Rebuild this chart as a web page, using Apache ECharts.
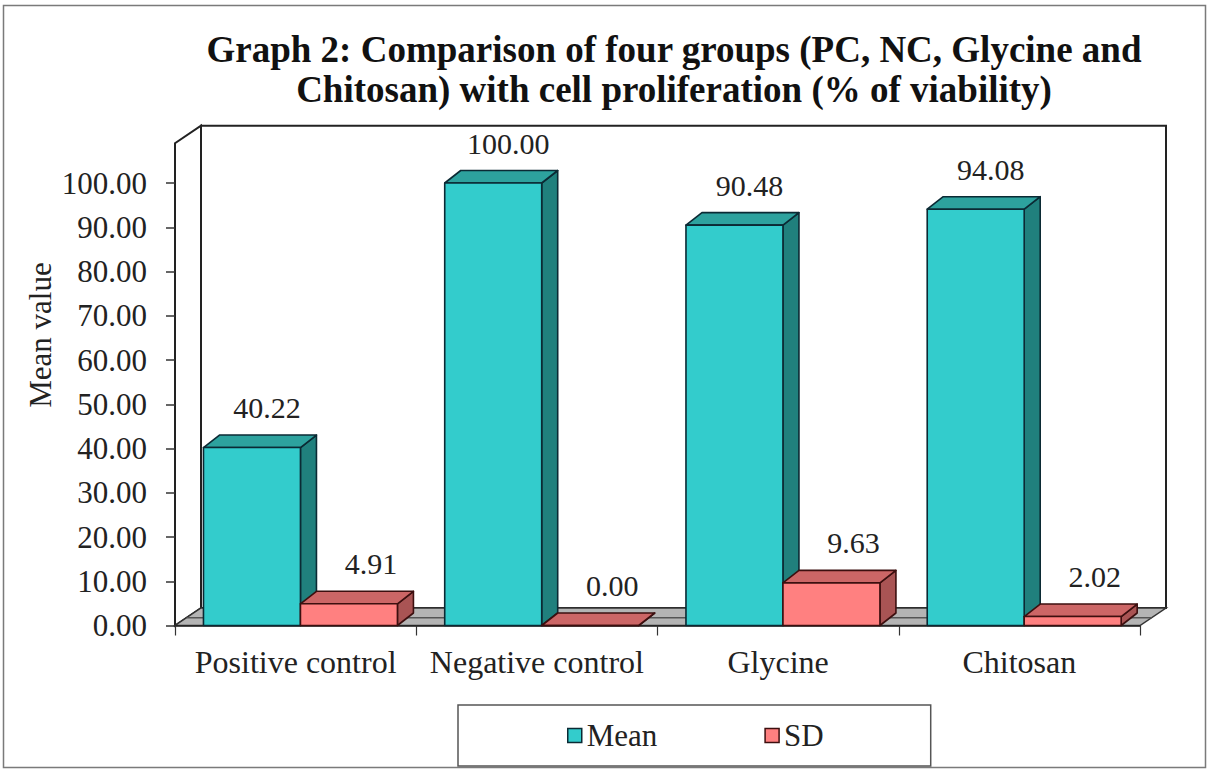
<!DOCTYPE html>
<html>
<head>
<meta charset="utf-8">
<title>Graph 2</title>
<script src="https://cdn.jsdelivr.net/npm/echarts@6/dist/echarts.min.js"></script>
<style>
  html, body { margin: 0; padding: 0; background: #ffffff; }
  #chart { width: 1210px; height: 772px; }
</style>
</head>
<body>
<div id="chart"></div>
<script>
// Cell proliferation (% of viability) per group
const categories = ['Positive control', 'Negative control', 'Glycine', 'Chitosan'];
const meanValues = [40.22, 100.00, 90.48, 94.08];
const sdValues = [4.91, 0.00, 9.63, 2.02];
const seriesNames = ['Mean', 'SD'];
const yRange = { min: 0, max: 100, interval: 10 };

// Layout and styling
const FONT = 'Liberation Serif';
const GRID = { left: 175, top: 183, width: 965, height: 442.5 };
const BAR_DEPTH = [16, -12.5];     // receding edge of each column
const WALL_DEPTH = [26, -17.5];    // receding edge of walls and floor
const WALL_TOP_VALUE = 109;        // walls rise a little above the last tick
const BAR_SHARE = 0.402;           // column width as a share of the category band
const BAR_SHIFT = 0.02;            // columns sit slightly back from the front edge
const LABEL_SHIFT = [7, 14];
const LABEL_RISE = 40;

const palettes = [
  { front: '#33CCCC', top: '#2DA29E', side: '#20807D', edge: '#0B2A34' },
  { front: '#FF8080', top: '#CC6666', side: '#A95454', edge: '#3C0F0F' }
];

const yOf = v => GRID.top + GRID.height * (1 - (v - yRange.min) / (yRange.max - yRange.min));

// A column drawn as a box: front face, top face and right side face
function boxSeries(name, values, slot) {
  const pal = palettes[slot];
  return {
    type: 'custom',
    name: name,
    data: values.map((v, i) => [i, v]),
    encode: { x: 0, y: 1 },
    z: 3,
    itemStyle: { color: pal.front, borderColor: pal.edge },
    renderItem: function (params, api) {
      const ci = api.value(0);
      const v = api.value(1);
      const base = api.coord([ci, 0]);
      const top = api.coord([ci, v]);
      const band = api.size([1, 0])[0];
      const w = band * BAR_SHARE;
      const x0 = base[0] - w + band * BAR_SHIFT + slot * w;
      const x1 = x0 + w;
      const yb = base[1];
      const yt = top[1];
      const dx = BAR_DEPTH[0], dy = BAR_DEPTH[1];
      const edge = { stroke: pal.edge, lineWidth: 1.6, lineJoin: 'round' };
      return {
        type: 'group',
        children: [
          { type: 'polygon',
            shape: { points: [[x1, yb], [x1, yt], [x1 + dx, yt + dy], [x1 + dx, yb + dy]] },
            style: Object.assign({ fill: pal.side }, edge) },
          { type: 'polygon',
            shape: { points: [[x0, yt], [x0 + dx, yt + dy], [x1 + dx, yt + dy], [x1, yt]] },
            style: Object.assign({ fill: pal.top }, edge) },
          { type: 'rect',
            shape: { x: x0, y: yt, width: w, height: yb - yt },
            style: Object.assign({ fill: pal.front }, edge) },
          { type: 'text',
            x: (x0 + x1 + dx) / 2 + LABEL_SHIFT[slot],
            y: yt - LABEL_RISE,
            style: { text: v.toFixed(2), align: 'center', verticalAlign: 'middle',
                     fontFamily: FONT, fontSize: 30, fill: '#222222' } }
        ]
      };
    }
  };
}

const xL = GRID.left;
const xR = GRID.left + GRID.width;
const y0 = yOf(0);
const yW = yOf(WALL_TOP_VALUE);
const wx = WALL_DEPTH[0], wy = WALL_DEPTH[1];

const chart = echarts.init(document.getElementById('chart'), null, { renderer: 'svg' });

chart.setOption({
  animation: false,
  backgroundColor: '#ffffff',
  textStyle: { fontFamily: FONT },
  title: {
    text: 'Graph 2: Comparison of four groups (PC, NC, Glycine and\nChitosan) with cell proliferation (% of viability)',
    left: 669,
    top: 24,
    textAlign: 'center',
    textStyle: { fontFamily: FONT, fontWeight: 'bold', fontSize: 37, lineHeight: 40, color: '#111111' }
  },
  grid: { left: GRID.left, top: GRID.top, width: GRID.width, height: GRID.height },
  xAxis: {
    type: 'category',
    data: categories,
    axisLine: { show: true, lineStyle: { color: '#222222', width: 1.5 } },
    axisTick: { show: true, length: 10, lineStyle: { color: '#333333', width: 1.2 } },
    axisLabel: { interval: 0, margin: 20, fontFamily: FONT, fontSize: 32, color: '#222222' }
  },
  yAxis: {
    type: 'value',
    min: yRange.min,
    max: yRange.max,
    interval: yRange.interval,
    splitLine: { show: false },
    axisLine: { show: false },
    axisTick: { show: true, length: 9, lineStyle: { color: '#333333', width: 1.5 } },
    axisLabel: { margin: 28, formatter: v => v.toFixed(2), fontFamily: FONT, fontSize: 31, color: '#222222' }
  },
  legend: {
    data: seriesNames.map((n, i) => ({
      name: n,
      icon: 'rect',
      itemStyle: { color: palettes[i].front, borderColor: palettes[i].edge, borderWidth: 1.5 }
    })),
    left: 458,
    top: 705,
    orient: 'horizontal',
    padding: [15, 107, 15, 109],
    itemWidth: 14,
    itemHeight: 14,
    itemGap: 107,
    borderColor: '#555555',
    borderWidth: 1.5,
    selectedMode: false,
    textStyle: { fontFamily: FONT, fontSize: 31, color: '#222222' }
  },
  graphic: {
    elements: [
      // outer frame
      { type: 'rect', z: -5, silent: true,
        shape: { x: 3.5, y: 5.5, width: 1202, height: 762 },
        style: { fill: 'none', stroke: '#7a7a7a', lineWidth: 1.5 } },
      // back wall
      { type: 'polygon', z: -4, silent: true,
        shape: { points: [[xL + wx, yW + wy], [xR + wx, yW + wy], [xR + wx, y0 + wy], [xL + wx, y0 + wy]] },
        style: { fill: '#ffffff', stroke: '#222222', lineWidth: 2 } },
      // side wall
      { type: 'polygon', z: -3, silent: true,
        shape: { points: [[xL, y0], [xL, yW], [xL + wx, yW + wy], [xL + wx, y0 + wy]] },
        style: { fill: '#ffffff', stroke: '#222222', lineWidth: 2 } },
      // floor
      { type: 'polygon', z: -2, silent: true,
        shape: { points: [[xL, y0], [xL + wx, y0 + wy], [xR + wx, y0 + wy], [xR, y0]] },
        style: { fill: '#B4B4B4', stroke: '#333333', lineWidth: 1.5 } },
      { type: 'line', z: -2, silent: true,
        shape: { x1: xL + wx * 0.45, y1: y0 + wy * 0.45, x2: xR + wx * 0.45, y2: y0 + wy * 0.45 },
        style: { stroke: '#555555', lineWidth: 1.5 } },
      // value axis title
      { type: 'text', silent: true,
        x: 40, y: 335, rotation: Math.PI / 2,
        style: { text: 'Mean value', align: 'center', verticalAlign: 'middle',
                 fontFamily: FONT, fontSize: 31, fill: '#222222' } }
    ]
  },
  series: [
    boxSeries(seriesNames[0], meanValues, 0),
    boxSeries(seriesNames[1], sdValues, 1)
  ]
});
</script>
</body>
</html>
